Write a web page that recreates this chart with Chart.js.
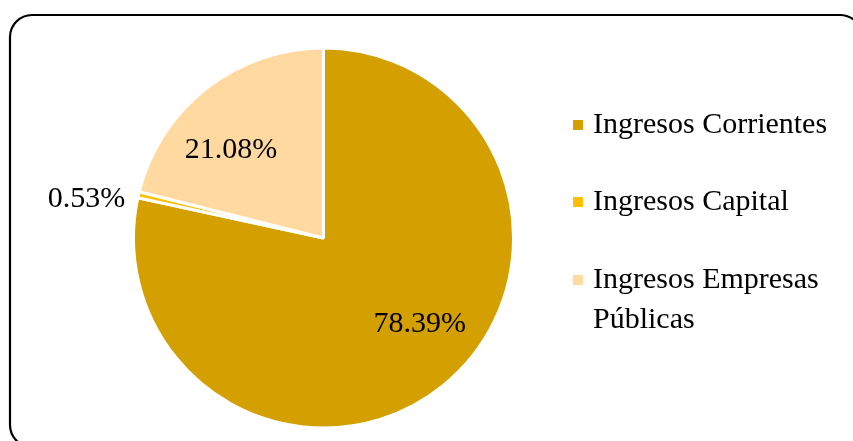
<!DOCTYPE html>
<html>
<head>
<meta charset="utf-8">
<script src="https://cdn.jsdelivr.net/npm/chart.js@4"></script>
<style>
  html, body { margin: 0; padding: 0; background: #fff; }
  #box { width: 853px; height: 441px; }
</style>
</head>
<body>
<div id="box"><canvas id="pieChart" width="853" height="441"></canvas></div>
<script>
// data
var labels = ['Ingresos Corrientes', 'Ingresos Capital', 'Ingresos Empresas Públicas'];
var legendLines = [['Ingresos Corrientes'], ['Ingresos Capital'], ['Ingresos Empresas', 'Públicas']];
var values = [78.39, 0.53, 21.08];
var colors = ['#D4A000', '#FFC000', '#FFD9A0'];
var fontFamily = '"Liberation Serif", "Times New Roman", serif';

// frame around the chart
var framePlugin = {
  id: 'frame',
  beforeDraw: function(chart) {
    var c = chart.ctx;
    c.save();
    c.fillStyle = '#fff';
    c.fillRect(0, 0, chart.width, chart.height);
    c.strokeStyle = '#000';
    c.lineWidth = 2.2;
    c.beginPath();
    c.roundRect(10, 15, 852, 432, 22);
    c.stroke();
    c.restore();
  }
};

// percent labels on the slices
var labelPlugin = {
  id: 'pctLabels',
  afterDatasetsDraw: function(chart) {
    var c = chart.ctx;
    var arcs = chart.getDatasetMeta(0).data;
    var shift = [[15, -14], [-4, 16], [-13, 14]];
    c.save();
    c.font = '30px ' + fontFamily;
    c.fillStyle = '#000';
    c.textAlign = 'center';
    c.textBaseline = 'middle';
    arcs.forEach(function(arc, i) {
      var p = arc.getProps(['x', 'y', 'startAngle', 'endAngle', 'outerRadius']);
      var mid = (p.startAngle + p.endAngle) / 2;
      var f = i === 1 ? 1.26 : 0.68;
      var x = p.x + Math.cos(mid) * p.outerRadius * f + shift[i][0];
      var y = p.y + Math.sin(mid) * p.outerRadius * f + shift[i][1];
      c.fillText(values[i].toFixed(2) + '%', x, y);
    });
    c.restore();
  }
};

// legend on the right
var legendPlugin = {
  id: 'sideLegend',
  afterDraw: function(chart) {
    var c = chart.ctx;
    var rowY = [125, 202, 280];
    c.save();
    c.font = '30px ' + fontFamily;
    c.textBaseline = 'middle';
    c.textAlign = 'left';
    legendLines.forEach(function(lines, i) {
      c.fillStyle = colors[i];
      c.fillRect(573, rowY[i] - 5, 10, 10);
      c.fillStyle = '#000';
      lines.forEach(function(t, j) {
        c.fillText(t, 593, rowY[i] + j * 40);
      });
    });
    c.restore();
  }
};

var ctx = document.getElementById('pieChart').getContext('2d');
var myChart = new Chart(ctx, {
  type: 'pie',
  data: {
    labels: labels,
    datasets: [{
      data: values,
      backgroundColor: colors,
      borderColor: '#fff',
      borderWidth: 3
    }]
  },
  options: {
    responsive: false,
    animation: false,
    layout: { padding: { left: 132, right: 338, top: 46, bottom: 11 } },
    plugins: {
      legend: { display: false },
      tooltip: { enabled: false }
    }
  },
  plugins: [framePlugin, labelPlugin, legendPlugin]
});
</script>
</body>
</html>
